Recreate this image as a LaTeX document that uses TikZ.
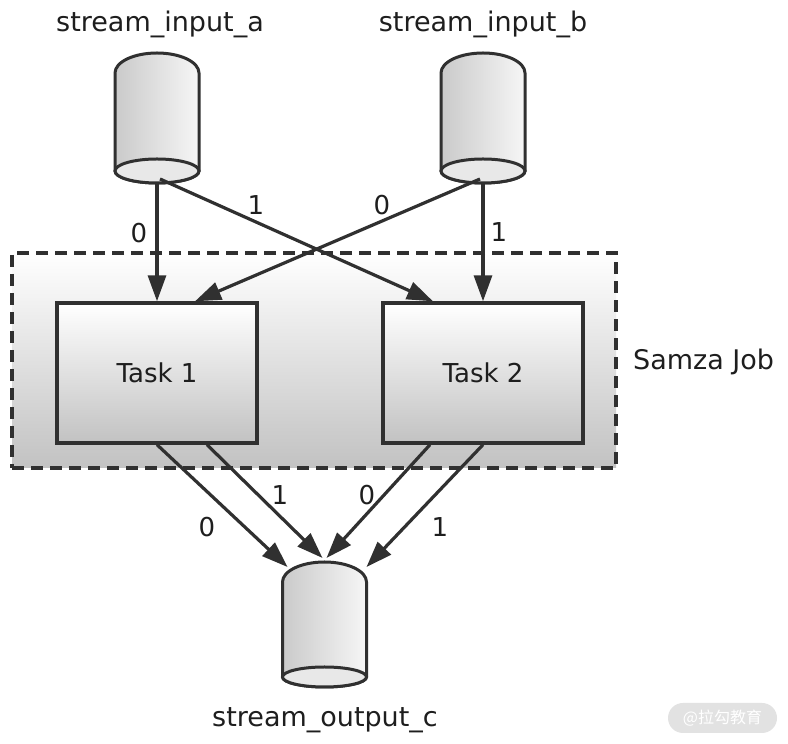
\documentclass[tikz,border=0pt]{standalone}
\usepackage{fontspec}
\setmainfont{DejaVu Sans}
\newfontfamily\cjk{Noto Sans CJK SC}
\usetikzlibrary{arrows.meta,calc}
\definecolor{dark}{HTML}{303030}
\definecolor{txt}{HTML}{1E1E1E}
\definecolor{shadegray}{HTML}{C2C2C2}
\definecolor{cylleft}{HTML}{CACACA}
\definecolor{cylright}{HTML}{F6F6F6}
\definecolor{cylbase}{HTML}{E8E8E8}
\definecolor{wmfill}{HTML}{E2E2E2}
\newcommand\mycyl[3]{% center x, cap-top Y, bottom-ellipse centre Y
  \filldraw[cylbody] ({#1-42},{#2-20}) arc[start angle=180,end angle=0,x radius=42pt,y radius=20pt]
    -- ({#1+42},#3) arc[start angle=0,end angle=-180,x radius=42pt,y radius=12pt] -- cycle;
  \filldraw[cylbottom] (#1,#3) ellipse[x radius=42pt,y radius=12pt];
}
\begin{document}
\begin{tikzpicture}[x=1pt,y=1pt,
  cylbody/.style={draw=dark,line width=3pt,left color=cylleft,right color=cylright},
  cylbottom/.style={draw=dark,line width=3pt,fill=cylbase},
  anchorbox/.style={inner sep=0pt,outer sep=0pt,minimum width=84pt},
  task/.style={draw=dark,line width=3.4pt,minimum width=200pt,minimum height=140pt,
    top color=white,bottom color=shadegray,inner sep=0pt,text=txt,font=\fontsize{26}{26}\selectfont},
  jobbox/.style={draw=dark,line width=3.4pt,dash pattern=on 12pt off 7pt,
    minimum width=604pt,minimum height=215pt,top color=white,bottom color=shadegray,inner sep=0pt},
  arr/.style={draw=dark,line width=3.2pt,-{Triangle[length=26pt,width=18pt]}},
  lbl/.style={text=txt,font=\fontsize{26}{26}\selectfont,inner sep=0pt},
  title/.style={text=txt,font=\fontsize{27}{27}\selectfont,inner sep=0pt},
  wm/.style={fill=wmfill,rounded corners=15pt,minimum width=109pt,minimum height=30pt,
    text=white,font=\cjk\fontsize{16}{16}\selectfont,inner sep=0pt}
]
\useasboundingbox (0,0) rectangle (788,744);
\fill[white] (0,0) rectangle (788,744);

% container
\node[jobbox] (job) at (314,383.5) {};
\node[title,anchor=west] (jobname) at (633,382) {Samza Job};

% input cylinders
\mycyl{157}{691}{573}
\mycyl{483}{691}{573}
\node[anchorbox,minimum height=130pt] (ina) at (157,626) {};
\node[anchorbox,minimum height=130pt] (inb) at (483,626) {};
\node[title] (namea) at (160,720) {stream\_input\_a};
\node[title] (nameb) at (483,720) {stream\_input\_b};

% output cylinder
\filldraw[cylbody] (282.5,162) arc[start angle=180,end angle=0,x radius=42pt,y radius=20pt]
  -- (366.5,67) arc[start angle=0,end angle=-180,x radius=42pt,y radius=10pt] -- cycle;
\filldraw[cylbottom] (324.5,67) ellipse[x radius=42pt,y radius=10pt];
\node[anchorbox,minimum height=125pt] (outc) at (324.5,119.5) {};
\node[title] (namec) at (325,24) {stream\_output\_c};

% tasks
\node[task] (t1) at (157,371) {Task 1};
\node[task] (t2) at (483,371) {Task 2};

% input arrows
\draw[arr] (ina.south) -- (t1.north);
\draw[arr] ($(ina.south)+(3,4)$) -- ($(t2.north)+(-50,0)$);
\draw[arr] ($(inb.south)+(-3,4)$) -- ($(t1.north)+(38,0)$);
\draw[arr] (inb.south) -- (t2.north);

% output arrows
\draw[arr] (t1.south) -- ($(outc.north)+(-37,-5)$);
\draw[arr] ($(t1.south)+(50,0)$) -- ($(outc.north)+(-2,4)$);
\draw[arr] ($(t2.south)+(-53,0)$) -- ($(outc.north)+(2,4)$);
\draw[arr] (t2.south) -- ($(outc.north)+(42,-5)$);

% labels
\node[lbl] (la0) at (139,511) {0};
\node[lbl] (la1) at (256,539) {1};
\node[lbl] (lb0) at (382,539) {0};
\node[lbl] (lb1) at (499,512) {1};
\node[lbl] (lo1) at (280,249) {1};
\node[lbl] (lo2) at (367,249) {0};
\node[lbl] (lo0) at (207,217) {0};
\node[lbl] (lo3) at (440,217) {1};

% watermark
\node[wm] (wmark) at (722.5,26) {@拉勾教育};
\end{tikzpicture}
\end{document}
